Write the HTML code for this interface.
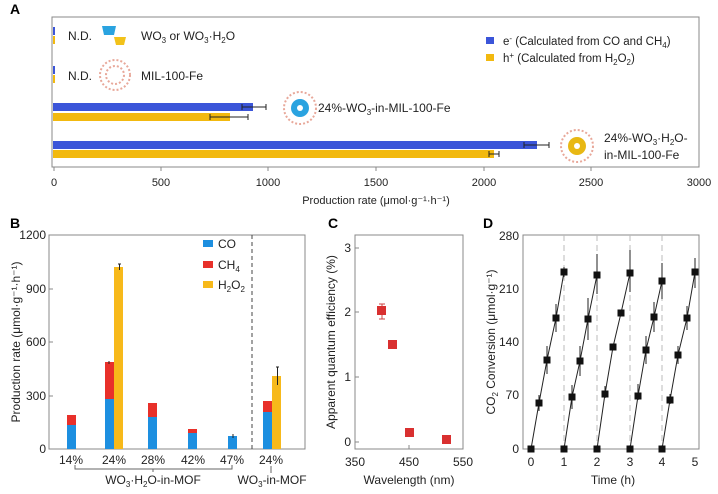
<!DOCTYPE html>
<html><head><meta charset="utf-8"><style>
body{margin:0;background:#fff}
svg{display:block;font-family:"Liberation Sans",Arial,sans-serif}
</style></head><body>
<svg width="718" height="494" viewBox="0 0 718 494" xmlns="http://www.w3.org/2000/svg">
<!-- Panel A -->
<text x="10" y="14" font-size="14" font-weight="bold">A</text>
<rect x="52" y="17" width="647" height="150" fill="none" stroke="#888" stroke-width="1"/>
<g font-size="11" fill="#222" text-anchor="middle">
<text x="54" y="186">0</text><text x="161" y="186">500</text><text x="268" y="186">1000</text>
<text x="376" y="186">1500</text><text x="484" y="186">2000</text><text x="591" y="186">2500</text><text x="699" y="186">3000</text>
<text x="376" y="204">Production rate (μmol·g⁻¹·h⁻¹)</text>
</g>
<g stroke="#888"><line x1="54" y1="167" x2="54" y2="171"/><line x1="161" y1="167" x2="161" y2="171"/><line x1="268" y1="167" x2="268" y2="171"/><line x1="376" y1="167" x2="376" y2="171"/><line x1="484" y1="167" x2="484" y2="171"/><line x1="591" y1="167" x2="591" y2="171"/></g>
<rect x="53" y="27" width="2" height="8" fill="#3b55d9"/><rect x="53" y="36" width="2" height="8" fill="#f2b90f"/>
<rect x="53" y="66" width="2" height="8" fill="#3b55d9"/><rect x="53" y="75" width="2" height="8" fill="#f2b90f"/>
<rect x="53" y="103" width="200" height="8" fill="#3b55d9"/><rect x="53" y="113" width="177" height="8" fill="#f2b90f"/>
<rect x="53" y="141" width="484" height="8" fill="#3b55d9"/><rect x="53" y="150" width="441" height="8" fill="#f2b90f"/>
<g stroke="#222" fill="none"><path d="M242 107H266M242 104V110M266 104V110"/><path d="M210 117H248M210 114V120M248 114V120"/><path d="M524 145H549M524 142V148M549 142V148"/><path d="M489 154H499M489 151V157M499 151V157"/></g>
<g font-size="12" fill="#222">
<text x="68" y="40">N.D.</text><text x="68" y="80">N.D.</text>
<text x="141" y="40">WO<tspan font-size="8" dy="3">3</tspan><tspan dy="-3"> or WO</tspan><tspan font-size="8" dy="3">3</tspan><tspan dy="-3">·H</tspan><tspan font-size="8" dy="3">2</tspan><tspan dy="-3">O</tspan></text>
<text x="141" y="80">MIL-100-Fe</text>
<text x="318" y="112">24%-WO<tspan font-size="8" dy="3">3</tspan><tspan dy="-3">-in-MIL-100-Fe</tspan></text>
<text x="604" y="142">24%-WO<tspan font-size="8" dy="3">3</tspan><tspan dy="-3">·H</tspan><tspan font-size="8" dy="3">2</tspan><tspan dy="-3">O-</tspan></text>
<text x="604" y="159">in-MIL-100-Fe</text>
</g>
<rect x="486" y="37" width="8" height="7" fill="#3b55d9"/><rect x="486" y="54" width="8" height="7" fill="#f2b90f"/>
<g font-size="11.5" fill="#222">
<text x="503" y="45">e<tspan font-size="8" dy="-4">-</tspan><tspan dy="4"> (Calculated from CO and CH</tspan><tspan font-size="8" dy="3">4</tspan><tspan dy="-3">)</tspan></text>
<text x="503" y="62">h<tspan font-size="8" dy="-4">+</tspan><tspan dy="4"> (Calculated from H</tspan><tspan font-size="8" dy="3">2</tspan><tspan dy="-3">O</tspan><tspan font-size="8" dy="3">2</tspan><tspan dy="-3">)</tspan></text>
</g>
<!-- icons -->
<path d="M102 26h14l-2 9h-10z" fill="#2aa3e0"/><path d="M114 37h12l-2 8h-8z" fill="#f2c21a"/>
<g fill="none" stroke="#e8a89a" stroke-width="2" stroke-dasharray="2 2">
<circle cx="115" cy="75" r="15"/><circle cx="115" cy="75" r="9"/>
<circle cx="300" cy="108" r="16"/><circle cx="577" cy="146" r="16"/></g>
<circle cx="300" cy="108" r="9" fill="#2aa3e0"/><circle cx="300" cy="108" r="3" fill="#fff"/>
<circle cx="577" cy="146" r="9" fill="#e8b814"/><circle cx="577" cy="146" r="3" fill="#fff"/>

<!-- Panel B -->
<text x="10" y="228" font-size="14" font-weight="bold">B</text>
<rect x="49" y="235" width="256" height="214" fill="none" stroke="#888"/>
<line x1="252" y1="235" x2="252" y2="449" stroke="#444" stroke-dasharray="4 3"/>
<g font-size="12" fill="#222" text-anchor="end">
<text x="46" y="239">1200</text><text x="46" y="293">900</text><text x="46" y="346">600</text><text x="46" y="400">300</text><text x="46" y="453">0</text></g>
<g stroke="#888"><line x1="49" y1="289" x2="53" y2="289"/><line x1="49" y1="342" x2="53" y2="342"/><line x1="49" y1="396" x2="53" y2="396"/></g>
<text transform="translate(20,342) rotate(-90)" font-size="12" text-anchor="middle" fill="#222">Production rate (μmol·g⁻¹·h⁻¹)</text>
<g fill="#1d8fe0">
<rect x="67" y="425" width="9" height="24"/><rect x="105" y="399" width="9" height="50"/><rect x="148" y="417" width="9" height="32"/><rect x="188" y="433" width="9" height="16"/><rect x="228" y="436" width="9" height="13"/><rect x="263" y="412" width="9" height="37"/></g>
<g fill="#e8302a">
<rect x="67" y="415" width="9" height="10"/><rect x="105" y="362" width="9" height="37"/><rect x="148" y="403" width="9" height="14"/><rect x="188" y="429" width="9" height="4"/><rect x="263" y="401" width="9" height="11"/></g>
<g fill="#f7b91a"><rect x="114" y="267" width="9" height="182"/><rect x="272" y="376" width="9" height="73"/></g>
<g stroke="#222"><path d="M118 264H121M119.5 264V270"/><path d="M276 367H279M277.5 367V385"/><path d="M109 361v3"/><path d="M233 434v4"/></g>
<g font-size="12" fill="#222" text-anchor="middle">
<text x="71" y="464">14%</text><text x="114" y="464">24%</text><text x="153" y="464">28%</text><text x="193" y="464">42%</text><text x="232" y="464">47%</text><text x="271" y="464">24%</text>
<text x="153" y="484">WO<tspan font-size="8" dy="3">3</tspan><tspan dy="-3">·H</tspan><tspan font-size="8" dy="3">2</tspan><tspan dy="-3">O-in-MOF</tspan></text>
<text x="272" y="484">WO<tspan font-size="8" dy="3">3</tspan><tspan dy="-3">-in-MOF</tspan></text></g>
<g stroke="#666" fill="none"><path d="M75 465V469H232V465M153 469V472"/><path d="M271 466V473"/></g>
<rect x="203" y="240" width="10" height="7" fill="#1d8fe0"/><rect x="203" y="261" width="10" height="7" fill="#e8302a"/><rect x="203" y="281" width="10" height="7" fill="#f7b91a"/>
<g font-size="12" fill="#222"><text x="218" y="248">CO</text><text x="218" y="269">CH<tspan font-size="8" dy="3">4</tspan></text><text x="218" y="289">H<tspan font-size="8" dy="3">2</tspan><tspan dy="-3">O</tspan><tspan font-size="8" dy="3">2</tspan></text></g>

<!-- Panel C -->
<text x="328" y="228" font-size="14" font-weight="bold">C</text>
<rect x="355" y="235" width="108" height="214" fill="none" stroke="#888"/>
<g font-size="12" fill="#222" text-anchor="end"><text x="351" y="252">3</text><text x="351" y="316">2</text><text x="351" y="381">1</text><text x="351" y="446">0</text></g>
<g stroke="#888"><line x1="355" y1="248" x2="359" y2="248"/><line x1="355" y1="312" x2="359" y2="312"/><line x1="355" y1="377" x2="359" y2="377"/><line x1="355" y1="442" x2="359" y2="442"/><line x1="409" y1="449" x2="409" y2="445"/></g>
<g font-size="12" fill="#222" text-anchor="middle"><text x="355" y="466">350</text><text x="409" y="466">450</text><text x="463" y="466">550</text><text x="409" y="484">Wavelength (nm)</text></g>
<text transform="translate(335,342) rotate(-90)" font-size="12" text-anchor="middle" fill="#222">Apparent quantum efficiency (%)</text>
<g stroke="#c44"><path d="M382 304v15M379 304h6M379 319h6"/></g>
<g fill="#d93030"><rect x="377" y="306" width="9" height="9"/><rect x="388" y="340" width="9" height="9"/><rect x="405" y="428" width="9" height="9"/><rect x="442" y="435" width="9" height="9"/></g>

<!-- Panel D -->
<text x="483" y="228" font-size="14" font-weight="bold">D</text>
<rect x="523" y="235" width="176" height="214" fill="none" stroke="#888"/>
<g stroke="#bbb" stroke-dasharray="6 4"><line x1="564" y1="235" x2="564" y2="449"/><line x1="597" y1="235" x2="597" y2="449"/><line x1="630" y1="235" x2="630" y2="449"/><line x1="662" y1="235" x2="662" y2="449"/></g>
<g font-size="12" fill="#222" text-anchor="end"><text x="519" y="240">280</text><text x="519" y="293">210</text><text x="519" y="346">140</text><text x="519" y="399">70</text><text x="519" y="453">0</text></g>
<g font-size="12" fill="#222" text-anchor="middle"><text x="531" y="466">0</text><text x="564" y="466">1</text><text x="597" y="466">2</text><text x="630" y="466">3</text><text x="662" y="466">4</text><text x="695" y="466">5</text><text x="613" y="484">Time (h)</text></g>
<text transform="translate(495,342) rotate(-90)" font-size="12" text-anchor="middle" fill="#222">CO<tspan font-size="8" dy="3">2</tspan><tspan dy="-3"> Conversion (μmol·g⁻¹)</tspan></text>
<g stroke="#222" fill="none" stroke-width="1">
<polyline points="531,449 539,403 547,360 556,318 564,272"/>
<polyline points="564,449 572,397 580,361 588,319 597,275"/>
<polyline points="597,449 605,394 613,347 621,313 630,273"/>
<polyline points="630,449 638,396 646,350 654,317 662,281"/>
<polyline points="662,449 670,400 678,355 687,318 695,272"/>
<path d="M539 395v16M547 346v28M556 304v28M564 267v10M572 385v24M580 346v30M588 298v42M597 254v40M605 386v12M630 250v42M638 384v16M646 336v28M654 302v30M662 263v36M670 394v10M678 346v18M687 306v24M695 258v30"/>
</g>
<g fill="#111">
<rect x="527.5" y="445.5" width="7" height="7"/><rect x="535.5" y="399.5" width="7" height="7"/><rect x="543.5" y="356.5" width="7" height="7"/><rect x="552.5" y="314.5" width="7" height="7"/><rect x="560.5" y="268.5" width="7" height="7"/>
<rect x="560.5" y="445.5" width="7" height="7"/><rect x="568.5" y="393.5" width="7" height="7"/><rect x="576.5" y="357.5" width="7" height="7"/><rect x="584.5" y="315.5" width="7" height="7"/><rect x="593.5" y="271.5" width="7" height="7"/>
<rect x="593.5" y="445.5" width="7" height="7"/><rect x="601.5" y="390.5" width="7" height="7"/><rect x="609.5" y="343.5" width="7" height="7"/><rect x="617.5" y="309.5" width="7" height="7"/><rect x="626.5" y="269.5" width="7" height="7"/>
<rect x="626.5" y="445.5" width="7" height="7"/><rect x="634.5" y="392.5" width="7" height="7"/><rect x="642.5" y="346.5" width="7" height="7"/><rect x="650.5" y="313.5" width="7" height="7"/><rect x="658.5" y="277.5" width="7" height="7"/>
<rect x="658.5" y="445.5" width="7" height="7"/><rect x="666.5" y="396.5" width="7" height="7"/><rect x="674.5" y="351.5" width="7" height="7"/><rect x="683.5" y="314.5" width="7" height="7"/><rect x="691.5" y="268.5" width="7" height="7"/>
</g>
</svg>
</body></html>
